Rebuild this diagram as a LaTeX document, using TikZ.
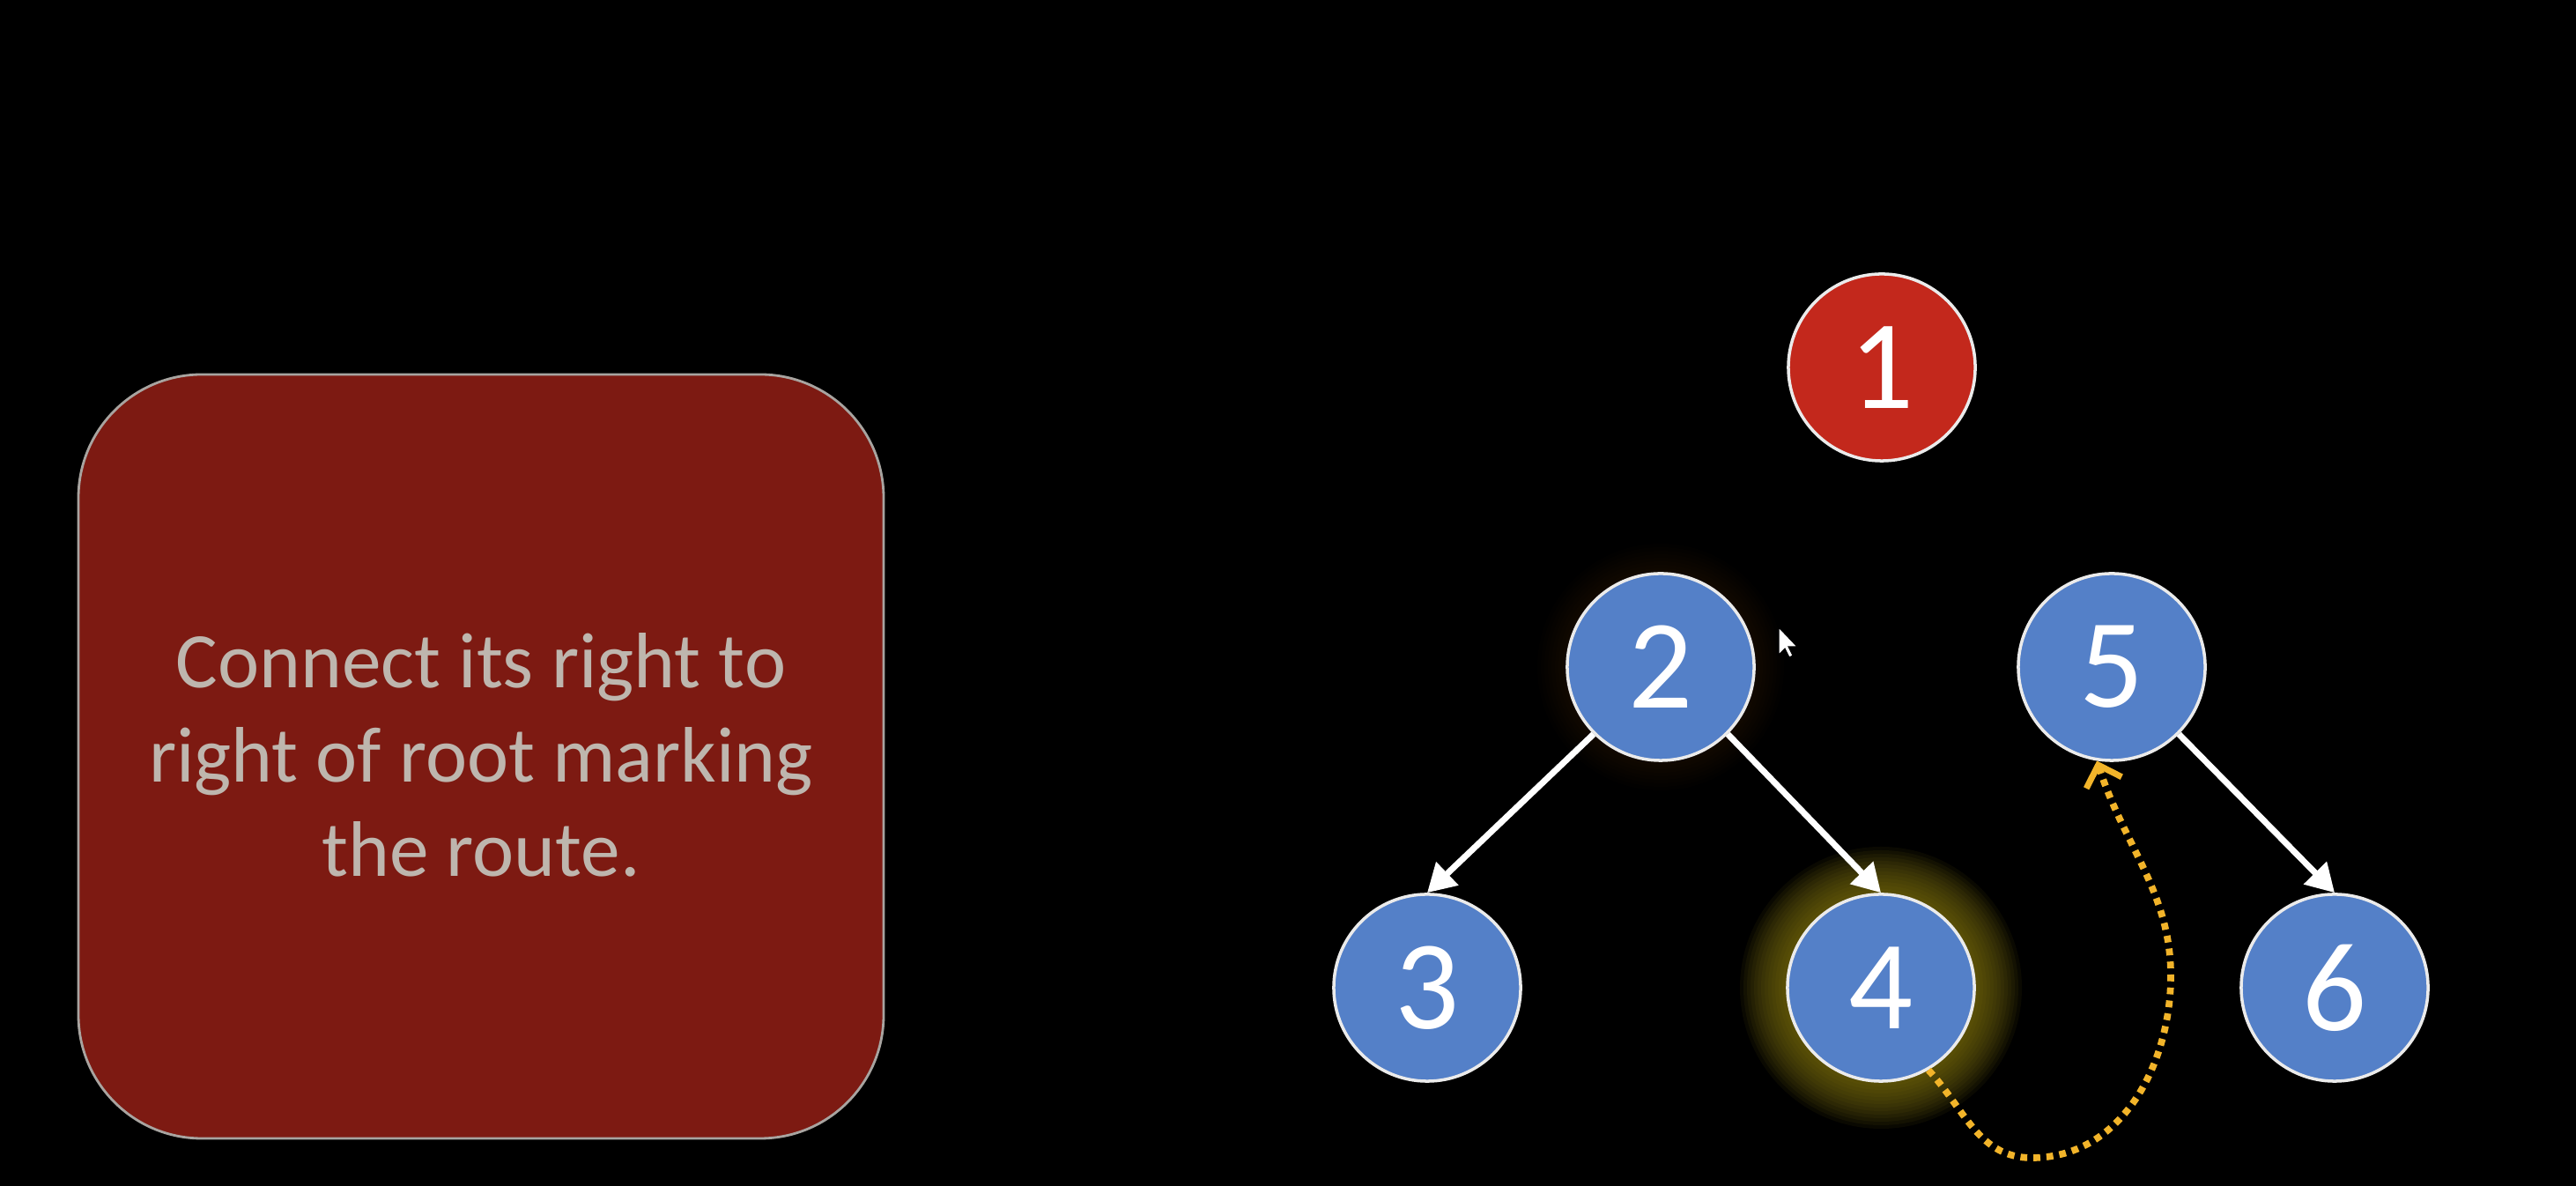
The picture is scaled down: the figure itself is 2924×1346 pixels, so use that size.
\documentclass[tikz,border=0pt]{standalone}
\usepackage{fontspec}
\setmainfont{Carlito}
\usetikzlibrary{arrows.meta}
\definecolor{boxred}{HTML}{7D1A12}
\definecolor{boxline}{HTML}{A8A4A0}
\definecolor{boxtext}{HTML}{BEB6AE}
\definecolor{rootred}{HTML}{C3281C}
\definecolor{nodeblue}{HTML}{5480C8}
\definecolor{glowy}{HTML}{8C7C12}
\definecolor{gloworange}{HTML}{4A2600}
\definecolor{routeorange}{HTML}{F2B42A}
\tikzset{
  treenode/.style={circle, draw=white!92!black, line width=1pt, minimum size=2.12cm, inner sep=0pt,
    text=white, font=\fontsize{41}{41}\selectfont},
  bluenode/.style={treenode, fill=nodeblue},
  rootnode/.style={treenode, fill=rootred},
  edgearrow/.style={draw=white, line width=2pt, -{Triangle[length=9pt,width=10pt]}},
  routearrow/.style={draw=routeorange, line width=2.2pt, dash pattern=on 2.2pt off 2pt,
    -{Straight Barb[length=6pt,width=12pt,line width=2pt]}},
  notebox/.style={draw=boxline, line width=0.8pt, fill=boxred, rounded corners=1.4cm}
}
\begin{document}
\begin{tikzpicture}[x=0.01cm,y=0.01cm]
\fill[black] (0,0) rectangle (2924,1346);
\useasboundingbox (0,0) rectangle (2924,1346);

% note box
\draw[notebox] (89,54) rectangle (1003,921);
\node[text=boxtext, align=center, font=\fontsize{25.4}{30.4}\selectfont] (note) at (546,489)
  {Connect its right to\\right of root marking\\the route.};

% glows
\foreach \r in {140,136,...,108} {\fill[gloworange, opacity=0.035] (1885,589) circle (\r);}
\foreach \r in {160,156,...,108} {\fill[glowy, opacity=0.08] (2135,225) circle (\r);}

% nodes
\node[rootnode] (n1) at (2136,929) {1};
\node[bluenode] (n2) at (1885,589) {2};
\node[bluenode] (n5) at (2397,589) {5};
\node[bluenode] (n3) at (1620,225) {3};
\node[bluenode] (n4) at (2135,225) {4};
\node[bluenode] (n6) at (2650,225) {6};

% edges
\draw[edgearrow] (n2.-135) -- (n3.north);
\draw[edgearrow] (n2.-45) -- (n4.north);
\draw[edgearrow] (n5.-45) -- (n6.north);

% route
\coordinate (low) at (2306,32);
\coordinate (rt) at (2463,215);
\draw[routearrow] (n4.-60) to[out=-47, in=180] (low) to[out=0, in=-95] (rt) to[out=85, in=-72] (n5.-99);

% mouse cursor
\filldraw[fill=white, draw=black, line width=0.3pt]
  (2019,634) -- (2019,603) -- (2026,610) -- (2031,600) -- (2035,602) -- (2030,612) -- (2040,612) -- cycle;
\end{tikzpicture}
\end{document}
